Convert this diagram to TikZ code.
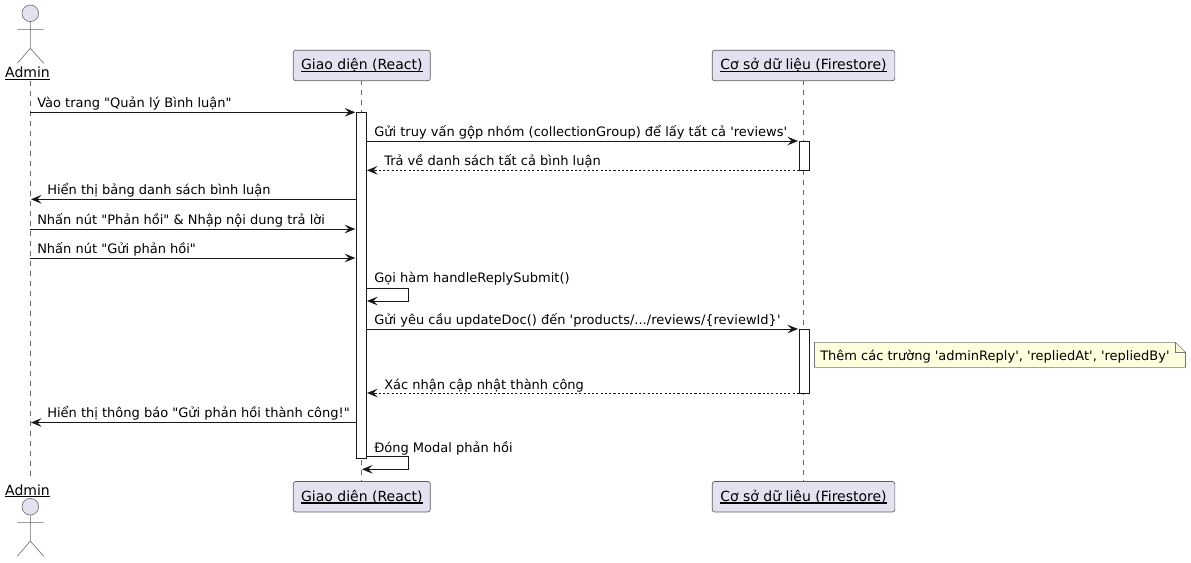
\documentclass[tikz,border=0pt]{standalone}
\usepackage{fontspec}
\setmainfont{DejaVu Sans}[Ligatures=TeXOff]
\usetikzlibrary{arrows.meta}
\definecolor{partfill}{HTML}{E2E2F0}
\definecolor{partline}{HTML}{181818}
\definecolor{notefill}{HTML}{FEFFDD}
\newsavebox{\ulsave}
\newcommand{\ulin}[1]{\sbox{\ulsave}{#1}\rlap{\vrule width \wd\ulsave height -1pt depth 1.8pt}\usebox{\ulsave}}
\tikzset{
  part/.style={draw=partline!70,fill=partfill,rounded corners=1.9pt,line width=0.5pt,inner sep=0pt,minimum height=22.9pt,text height=8.6pt,text depth=2pt,font=\fontsize{10.5}{12}\selectfont},
  actorlab/.style={inner sep=0pt,anchor=base,font=\fontsize{10.5}{12}\selectfont},
  actorline/.style={draw=partline!65,line width=0.45pt,fill=none},
  life/.style={draw=partline!65,line width=0.4pt,dash pattern=on 3.75pt off 3.75pt},
  act/.style={draw=partline,fill=white,line width=0.5pt,inner sep=0pt,minimum width=7.3pt,anchor=north},
  msg/.style={draw=partline,line width=0.7pt,-{Stealth[length=8pt,width=6.5pt,inset=3.2pt]}},
  ret/.style={msg,dash pattern=on 1.6pt off 1.6pt},
  lab/.style={inner sep=0pt,anchor=base west,font=\fontsize{9.75}{12}\selectfont},
  notebody/.style={draw=partline!60,fill=notefill,line width=0.45pt}
}
\begin{document}
\begin{tikzpicture}[x=0.75pt,y=-0.75pt]
\useasboundingbox (0,0) rectangle (1191,562);
% lifeline ends
\coordinate (at) at (30.3,81); \coordinate (ab) at (30.3,481);
\coordinate (rt) at (361.3,80); \coordinate (rb) at (361.3,481);
\coordinate (dt) at (803.3,80); \coordinate (db) at (803.3,481);
\draw[life] (at) -- (ab);
\draw[life] (rt) -- (rb);
\draw[life] (dt) -- (db);
% participants
\node[part,minimum width=102.75pt] (reactT) at (361.8,65.5) {\ulin{Giao diện (React)}};
\node[part,minimum width=137pt] (dbT) at (803.5,65.5) {\ulin{Cơ sở dữ liệu (Firestore)}};
\node[part,minimum width=102.75pt] (reactB) at (361.8,496.7) {\ulin{Giao diện (React)}};
\node[part,minimum width=137pt] (dbB) at (803.5,496.7) {\ulin{Cơ sở dữ liệu (Firestore)}};
% actors
\node[actorlab] (adminT) at (27.5,77.5) {\ulin{Admin}};
\node[actorlab] (adminB) at (27.5,495) {\ulin{Admin}};
\draw[actorline,fill=partfill] (30.3,13.3) circle[radius=8.3];
\draw[actorline] (30.3,21.6) -- (30.3,48.3) (17.3,29.3) -- (43.7,29.3) (17.3,63.3) -- (30.3,48.3) -- (43.7,63.3);
\draw[actorline,fill=partfill] (30.3,506.7) circle[radius=8.3];
\draw[actorline] (30.3,515) -- (30.3,541) (17.3,522.3) -- (43.7,522.3) (17.3,556.3) -- (30.3,541) -- (43.7,556.3);
% activations
\node[act,minimum height=259.5pt] (ar) at (361.5,112.3) {};
\node[act,minimum height=21.75pt] (ad1) at (804.3,141) {};
\node[act,minimum height=48pt] (ad2) at (804.3,329) {};
% message end points
\coordinate (a1) at (30.3,112.3); \coordinate (r1) at (355.3,112.3);
\coordinate (r2) at (366.3,141); \coordinate (d2) at (798,141);
\coordinate (d3) at (799,170.3); \coordinate (r3) at (367,170.3);
\coordinate (r4) at (356.7,199.3); \coordinate (a4) at (31,199.3);
\coordinate (a5) at (30.3,229); \coordinate (r5) at (355.3,229);
\coordinate (a6) at (30.3,258); \coordinate (r6) at (355.3,258);
\coordinate (s1a) at (366.3,288); \coordinate (s1b) at (408.7,288); \coordinate (s1c) at (408.7,301); \coordinate (s1d) at (367,301);
\coordinate (r7) at (366.3,329); \coordinate (d7) at (798,329);
\coordinate (d8) at (799,393); \coordinate (r8) at (367,393);
\coordinate (r9) at (356.7,422.5); \coordinate (a9) at (31,422.5);
\coordinate (s2a) at (366.3,456.3); \coordinate (s2b) at (408.7,456.3); \coordinate (s2c) at (408.7,469.3); \coordinate (s2d) at (362,469.3);
% messages
\draw[msg] (a1) -- (r1);
\draw[msg] (r2) -- (d2);
\draw[ret] (d3) -- (r3);
\draw[msg] (r4) -- (a4);
\draw[msg] (a5) -- (r5);
\draw[msg] (a6) -- (r6);
\draw[msg] (s1a) -- (s1b) -- (s1c) -- (s1d);
\draw[msg] (r7) -- (d7);
\draw[ret] (d8) -- (r8);
\draw[msg] (r9) -- (a9);
\draw[msg] (s2a) -- (s2b) -- (s2c) -- (s2d);
% labels
\node[lab] (l1) at (37,107.3) {Vào trang "Quản lý Bình luận"};
\node[lab] (l2) at (374,136) {Gửi truy vấn gộp nhóm (collectionGroup) để lấy tất cả 'reviews'};
\node[lab] (l3) at (384,165.3) {Trả về danh sách tất cả bình luận};
\node[lab] (l4) at (47,194.3) {Hiển thị bảng danh sách bình luận};
\node[lab] (l5) at (37,224) {Nhấn nút "Phản hồi" \& Nhập nội dung trả lời};
\node[lab] (l6) at (37,253) {Nhấn nút "Gửi phản hồi"};
\node[lab] (l7) at (374,282) {Gọi hàm handleReplySubmit()};
\node[lab] (l8) at (374,324) {Gửi yêu cầu updateDoc() đến 'products/.../reviews/\{reviewId\}'};
\node[lab] (l9) at (384,389) {Xác nhận cập nhật thành công};
\node[lab] (l10) at (47,417.5) {Hiển thị thông báo "Gửi phản hồi thành công!"};
\node[lab] (l11) at (374,452) {Đóng Modal phản hồi};
% note
\draw[notebody] (814.5,342.3) -- (1175.5,342.3) -- (1185.5,352.3) -- (1185.5,367.3) -- (814.5,367.3) -- cycle;
\draw[notebody,fill=none] (1175.5,342.3) -- (1175.5,352.3) -- (1185.5,352.3);
\node[lab] (note) at (820,360) {Thêm các trường 'adminReply', 'repliedAt', 'repliedBy'};
\end{tikzpicture}
\end{document}
